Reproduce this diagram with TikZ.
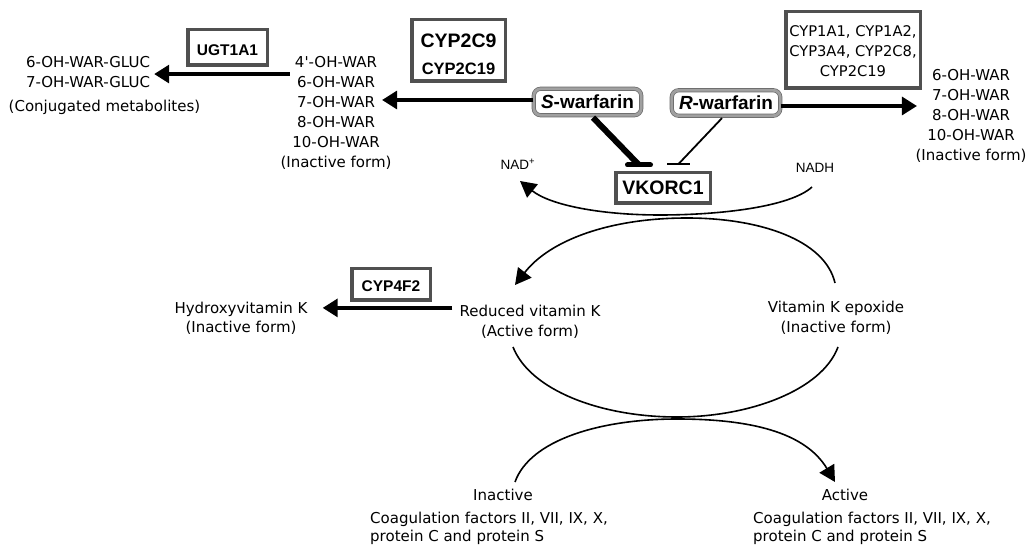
\documentclass[tikz,border=0pt]{standalone}
\usepackage{fontspec}
\setmainfont{DejaVu Sans}
\newfontfamily\arialf{Liberation Sans}
\usetikzlibrary{arrows.meta}
\definecolor{boxgray}{RGB}{80,80,80}
\definecolor{wdark}{RGB}{105,105,105}
\definecolor{wlight}{RGB}{160,160,160}
\begin{document}
\begin{tikzpicture}[x=1pt,y=-1pt,
  txt/.style={inner sep=0pt, align=center, font=\fontsize{15}{20}\selectfont},
  ebox/.style={draw=boxgray, line width=3.5pt, inner sep=0pt, fill=white, align=center, font=\arialf\bfseries},
  wbox/.style={draw=wdark, double=wlight, double distance=2.8pt, line width=0.7pt, rounded corners=7pt, inner sep=0pt, fill=white, font=\arialf\bfseries\fontsize{19}{22}\selectfont},
  harr/.style={line width=3.2pt, -{Triangle[length=15pt,width=18pt]}},
  carr/.style={line width=1.6pt, -{Triangle[length=16pt,width=17pt]}},
  cline/.style={line width=1.6pt},
  small/.style={inner sep=0pt, font=\arialf\fontsize{13.5}{16}\selectfont}
]
\fill[white] (0,0) rectangle (1028,545);
\useasboundingbox (0,0) rectangle (1028,545);

% texts (anchor=base is the baseline of the last line)
\node[txt,anchor=base] (gluc) at (88,87.5) {6-OH-WAR-GLUC\\7-OH-WAR-GLUC};
\node[txt,anchor=base] (conj) at (104.5,112) {(Conjugated metabolites)};
\node[txt,anchor=base] (mid) at (336,167.5) {4\textquotesingle-OH-WAR\\6-OH-WAR\\7-OH-WAR\\8-OH-WAR\\10-OH-WAR\\(Inactive form)};
\node[txt,anchor=base] (rlist) at (971,160.5) {6-OH-WAR\\7-OH-WAR\\8-OH-WAR\\10-OH-WAR\\(Inactive form)};
\node[small,anchor=base] (nadp) at (518,170) {NAD\textsuperscript{+}};
\node[small,anchor=base] (nadh) at (815,173) {NADH};
\node[txt,anchor=base] (hyd) at (241,333) {Hydroxyvitamin K\\(Inactive form)};
\node[txt,anchor=base] (red) at (530,336) {Reduced vitamin K\\(Active form)};
\node[txt,anchor=base] (epo) at (836,332) {Vitamin K epoxide\\(Inactive form)};
\node[txt,anchor=base] (inact) at (503,500) {Inactive};
\node[txt,anchor=base west,align=left,font=\fontsize{15}{18.5}\selectfont] (inactcf) at (370,541.5) {Coagulation factors II, VII, IX, X,\\protein C and protein S};
\node[txt,anchor=base] (act) at (845,500) {Active};
\node[txt,anchor=base west,align=left,font=\fontsize{15}{18.5}\selectfont] (actcf) at (753,541.5) {Coagulation factors II, VII, IX, X,\\protein C and protein S};

% boxes
\node[ebox, minimum width=79.5pt, minimum height=35.5pt, font=\arialf\bfseries\fontsize{15.5}{18}\selectfont] (ugt) at (227.5,47.5) {\rule{0pt}{16pt}UGT1A1};
\node[ebox, minimum width=93.5pt, minimum height=61.5pt, font=\arialf\bfseries\fontsize{19.5}{27}\selectfont] (c29) at (458.5,50.5) {\rule{0pt}{22pt}CYP2C9\\{\fontsize{16.5}{27}\selectfont CYP2C19}};
\node[ebox, minimum width=134.5pt, minimum height=76.5pt, font=\fontsize{14.7}{20}\selectfont] (c1a) at (853,50) {\rule{0pt}{14pt}CYP1A1, CYP1A2,\\CYP3A4, CYP2C8,\\CYP2C19};
\node[wbox, minimum width=107.5pt, minimum height=26.5pt] (sw) at (587.5,102) {\textit{S}-warfarin};
\node[wbox, minimum width=108.5pt, minimum height=25.5pt] (rw) at (726,103) {\textit{R}-warfarin};
\node[ebox, minimum width=94.5pt, minimum height=30.5pt, font=\arialf\bfseries\fontsize{19.5}{22}\selectfont] (vk) at (663,188) {VKORC1};
\node[ebox, minimum width=78.5pt, minimum height=31.5pt, font=\arialf\bfseries\fontsize{15.5}{18}\selectfont] (c4f) at (391,284.5) {\rule{0pt}{14pt}CYP4F2};

% horizontal arrows
\draw[harr] ([yshift=2pt]sw.west) -- ([xshift=-9.6pt,yshift=2pt]mid.east |- sw.west);
\draw[harr] ([xshift=9.6pt,yshift=-2pt]mid.west |- gluc.east) -- ([xshift=4pt,yshift=-2pt]gluc.east);
\draw[harr] ([yshift=-3pt]rw.east) -- ([xshift=1.6pt,yshift=-3pt]rlist.west |- rw.east);
\draw[harr] ([xshift=-7pt,yshift=-3.5pt]red.north west) -- ([xshift=15pt,yshift=-3.5pt]red.north west -| hyd.east);

% inhibition
\coordinate (sT) at (639,165);
\coordinate (rT) at (678.5,164);
\draw[line width=6pt] ([xshift=5.5pt,yshift=-2pt]sw.south) -- (sT);
\draw[line width=5pt, line cap=round] ([xshift=-11.5pt]sT) -- ([xshift=11.5pt]sT);
\draw[line width=1.8pt] ([xshift=-4pt,yshift=-2pt]rw.south) -- (rT);
\draw[line width=2pt] ([xshift=-11.5pt]rT) -- ([xshift=11.5pt]rT);

% cycle curves
\coordinate (a0) at (812,187);
\coordinate (a1) at (520,181);
\coordinate (b0) at (835,283);
\coordinate (b1) at (515,285);
\coordinate (c0) at (513,347);
\coordinate (c1) at (838,347);
\coordinate (d0) at (515,482);
\coordinate (d1) at (835,482);
\draw[carr] (a0) .. controls (790,207) and (720,215) .. (660,215) .. controls (600,215) and (550,205) .. (a1);
\draw[carr] (b0) .. controls (825,240) and (760,218) .. (687,218) .. controls (610,218) and (550,240) .. (b1);
\draw[cline] (c0) .. controls (530,390) and (600,417) .. (677,417) .. controls (750,417) and (822,390) .. (c1);
\draw[carr] (d0) .. controls (530,440) and (600,419) .. (677,419) .. controls (750,419) and (805,432) .. (d1);
\end{tikzpicture}
\end{document}
